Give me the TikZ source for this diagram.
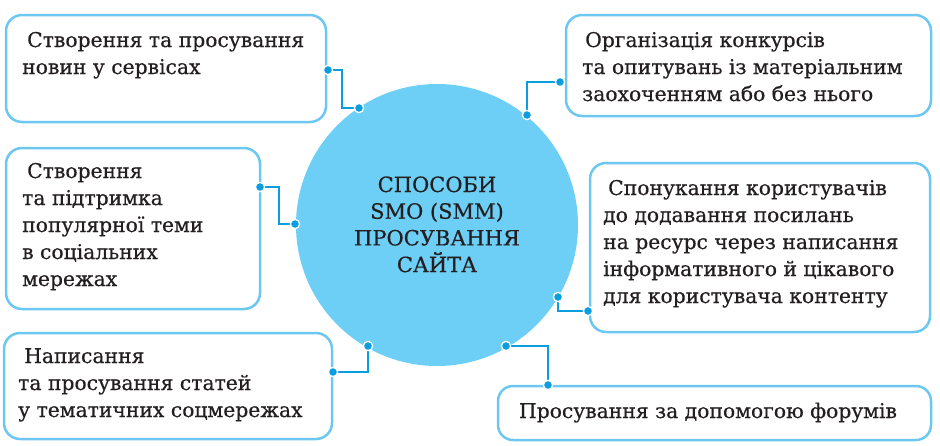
\documentclass[tikz,border=0pt]{standalone}
\usepackage{fontspec}
\setmainfont{DejaVu Serif}[FakeBold=0.5]
\definecolor{circfill}{HTML}{6DCFF6}
\definecolor{boxline}{HTML}{6CC8F1}
\definecolor{dotblue}{HTML}{0A9DE0}
\definecolor{txt}{HTML}{231F20}
\tikzset{
  box/.style={draw=boxline, line width=2.5pt, fill=white, rounded corners=16pt, rectangle, inner sep=0pt},
  lbl/.style={anchor=base west, inner sep=0pt, text=txt, font=\fontsize{20.3}{27}\selectfont},
  conn/.style={draw=dotblue, line width=1.4pt},
  dotc/.style={fill=dotblue, draw=white, line width=1.3pt},
}
\begin{document}
\begin{tikzpicture}[x=1pt,y=-1pt]
\useasboundingbox (0,0) rectangle (940,445);
% central circle
\fill[circfill] (437,225) circle (141);
% boxes
\node[box, minimum width=320pt, minimum height=107pt] (b1) at (166,68.5) {};
\node[box, minimum width=365pt, minimum height=101pt] (b2) at (748.5,65.5) {};
\node[box, minimum width=254pt, minimum height=161pt] (b3) at (133,228.5) {};
\node[box, minimum width=340pt, minimum height=169pt] (b4) at (760,247.5) {};
\node[box, minimum width=328pt, minimum height=106pt] (b5) at (168,386) {};
\node[box, minimum width=433pt, minimum height=54pt, rounded corners=15pt] (b6) at (714.5,413) {};
% texts
\node[lbl] (t1) at (22,47) {\parbox[t]{300pt}{\hspace*{5pt}Створення та просування\\новин у сервісах}};
\node[lbl] (t2) at (582,47) {\parbox[t]{340pt}{\hspace*{3pt}Організація конкурсів\\та опитувань із матеріальним\\заохоченням або без нього}};
\node[lbl] (t3) at (22,178) {\parbox[t]{230pt}{\hspace*{5pt}Створення\\та підтримка\\популярної теми\\в соціальних\\мережах}};
\node[lbl] (t4) at (603,195) {\parbox[t]{320pt}{\hspace*{5pt}Спонукання користувачів\\до додавання посилань\\на ресурс через написання\\інформативного й цікавого\\для користувача контенту}};
\node[lbl] (t5) at (18,363) {\parbox[t]{310pt}{\hspace*{6pt}Написання\\та просування статей\\у тематичних соцмережах}};
\node[lbl, anchor=base] (t6) at (708,418) {Просування за допомогою форумів};
\node[anchor=base, inner sep=0pt, text=txt, font=\fontsize{21}{26.7}\selectfont] (tc) at (437,192)
  {\parbox[t]{240pt}{\centering СПОСОБИ\\SMO (SMM)\\ПРОСУВАННЯ\\САЙТА}};
% connector end points
\coordinate (p1) at (328,70);  \coordinate (q1) at (359,108);
\coordinate (p2) at (560,82);  \coordinate (q2) at (527,115);
\coordinate (p3) at (260,187); \coordinate (q3) at (295,224);
\coordinate (p4) at (588,311); \coordinate (q4) at (558,297);
\coordinate (p5) at (333,372); \coordinate (q5) at (368,346);
\coordinate (p6) at (548,385); \coordinate (q6) at (506,346);
% connectors
\draw[conn] (p1) -- ++(14,0) |- (q1);
\draw[conn] (p2) -| (q2);
\draw[conn] (p3) -- ++(19,0) |- (q3);
\draw[conn] (q4) |- (p4);
\draw[conn] (p5) -| (q5);
\draw[conn] (q6) -| (p6);
% dots
\foreach \d in {p1,q1,p2,q2,p3,q3,p4,q4,p5,q5,p6,q6}
  \filldraw[dotc] (\d) circle (4.6pt);
\end{tikzpicture}
\end{document}
